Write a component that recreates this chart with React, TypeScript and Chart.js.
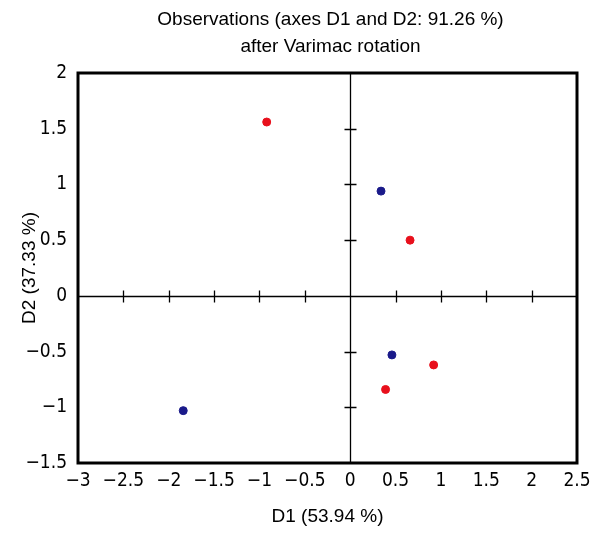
import React, { useEffect, useRef } from "react";
import { Chart, registerables } from "chart.js";

Chart.register(...registerables);

const redX = [-0.92, 0.66, 0.92, 0.39];
const redY = [1.56, 0.5, -0.62, -0.84];
const blueX = [0.34, 0.46, -1.84];
const blueY = [0.94, -0.53, -1.03];

const titleLines = ["Observations (axes D1 and D2: 91.26 %)", "after Varimac rotation"];
const xTitle = "D1 (53.94 %)";
const yTitle = "D2 (37.33 %)";

const xMin = -3, xMax = 2.5, yMin = -1.5, yMax = 2, step = 0.5;

const fmt = (v: number) => {
  const r = Math.round(v * 100) / 100;
  const s = Math.abs(r).toString();
  return r < 0 ? "\u2212" + s : s;
};

const TICK_FONT = "'Liberation Sans Narrow', 'DejaVu Sans Condensed', 'Liberation Sans', sans-serif";
const TEXT_FONT = "'Liberation Sans', Arial, sans-serif";

const framePlugin = {
  id: "frame",
  afterDatasetsDraw(chart: any) {
    const { ctx, chartArea: a, scales } = chart;
    const x0 = Math.round(scales.x.getPixelForValue(0)) + 0.5;
    const y0 = Math.round(scales.y.getPixelForValue(0)) + 0.5;
    ctx.save();
    ctx.strokeStyle = "#000";
    ctx.lineWidth = 1.3;
    ctx.beginPath();
    ctx.moveTo(x0, a.top);
    ctx.lineTo(x0, a.bottom);
    ctx.moveTo(a.left, y0);
    ctx.lineTo(a.right, y0);
    for (let v = xMin + step; v < xMax - 1e-9; v += step) {
      if (Math.abs(v) < 1e-9) continue;
      const px = Math.round(scales.x.getPixelForValue(v)) + 0.5;
      ctx.moveTo(px, y0 - 6);
      ctx.lineTo(px, y0 + 6);
    }
    for (let v = yMin + step; v < yMax - 1e-9; v += step) {
      if (Math.abs(v) < 1e-9) continue;
      const py = Math.round(scales.y.getPixelForValue(v)) + 0.5;
      ctx.moveTo(x0 - 6, py);
      ctx.lineTo(x0 + 6, py);
    }
    ctx.stroke();
    ctx.lineWidth = 3;
    ctx.strokeRect(a.left, a.top, a.right - a.left, a.bottom - a.top);
    // title
    ctx.fillStyle = "#000";
    ctx.font = "19px " + TEXT_FONT;
    ctx.textAlign = "center";
    ctx.textBaseline = "middle";
    const cx = (a.left + a.right) / 2 + 3;
    ctx.fillText(titleLines[0], cx, 20);
    ctx.fillText(titleLines[1], cx, 47);
    ctx.restore();
  },
};

export default function App() {
  const ref = useRef<HTMLCanvasElement>(null);
  useEffect(() => {
    document.body.style.margin = "0";
    const redData = redX.map((x, i) => ({ x, y: redY[i] }));
    const blueData = blueX.map((x, i) => ({ x, y: blueY[i] }));
    const chart = new Chart(ref.current!, {
      type: "scatter",
      data: {
        datasets: [
          { data: blueData, backgroundColor: "#1a1a8a", borderColor: "#1a1a8a", pointRadius: 4, pointHoverRadius: 4 },
          { data: redData, backgroundColor: "#e8101c", borderColor: "#e8101c", pointRadius: 4, pointHoverRadius: 4 },
        ],
      },
      options: {
        animation: false,
        responsive: false,
        events: [],
        layout: { padding: { top: 73, right: 23, left: 0, bottom: 0 } },
        plugins: { legend: { display: false }, tooltip: { enabled: false }, title: { display: false } },
        scales: {
          x: {
            type: "linear",
            min: xMin,
            max: xMax,
            grid: { display: false, drawTicks: false },
            border: { display: false },
            ticks: {
              stepSize: step,
              padding: 7,
              color: "#000",
              font: { family: TICK_FONT, size: 19 },
              callback: (v: any) => fmt(Number(v)),
              maxRotation: 0,
              autoSkip: false,
            },
            title: { display: true, text: xTitle, color: "#000", font: { family: TEXT_FONT, size: 19 }, padding: { top: 0, bottom: 10 } },
            afterFit: (s: any) => { s.height = 75; },
          },
          y: {
            type: "linear",
            min: yMin,
            max: yMax,
            grid: { display: false, drawTicks: false },
            border: { display: false },
            ticks: {
              stepSize: step,
              padding: 11,
              color: "#000",
              font: { family: TICK_FONT, size: 19 },
              callback: (v: any) => fmt(Number(v)),
              autoSkip: false,
            },
            title: { display: true, text: yTitle, color: "#000", font: { family: TEXT_FONT, size: 19 }, padding: { top: 18, bottom: 0 } },
            afterFit: (s: any) => { s.width = 78; },
          },
        },
      },
      plugins: [framePlugin],
    } as any);
    return () => chart.destroy();
  }, []);
  return (
    <div style={{ width: 600, height: 538, background: "#fff" }}>
      <canvas ref={ref} width={600} height={538} style={{ display: "block" }} />
    </div>
  );
}
